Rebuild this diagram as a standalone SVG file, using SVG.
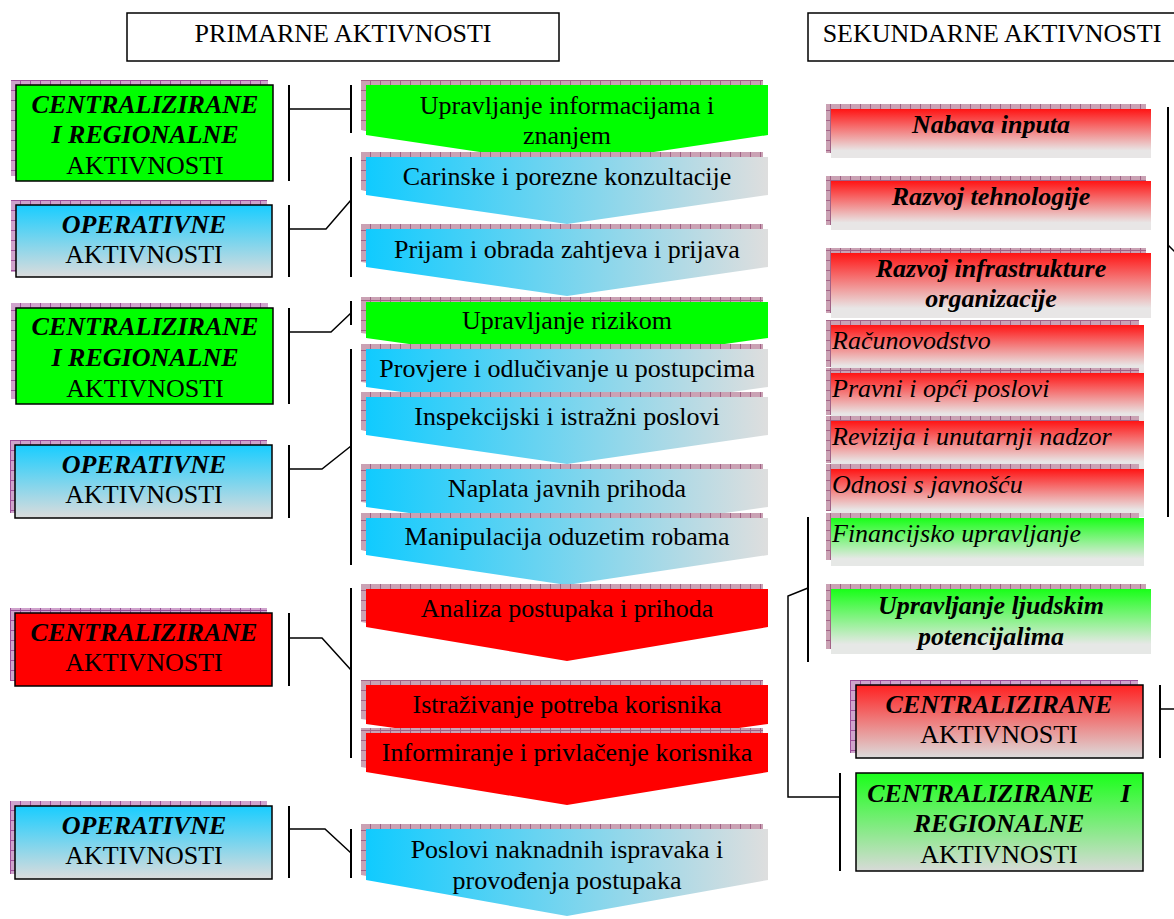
<svg xmlns="http://www.w3.org/2000/svg" width="1174" height="919" viewBox="0 0 1174 919">
<style>
.t{font-family:"Liberation Serif","Times New Roman",serif;font-size:26px;fill:#000}
.bi{font-weight:bold;font-style:italic}
.i{font-style:italic}
.c{text-anchor:middle}
.bar{stroke:#000;stroke-width:2;fill:none}
.ln{stroke:#000;stroke-width:1.5;fill:none}
.bx{stroke:#000;stroke-width:1.5}
.sh{fill:url(#pat)}
.sh2{fill:url(#pat2)}
</style>
<defs>
<pattern id="pat" width="10" height="10" patternUnits="userSpaceOnUse">
<rect width="10" height="10" fill="#cfa3cc"/>
<path d="M0 0.5H10M0.5 0V10" stroke="#9e4f9b" stroke-width="1"/>
</pattern>
<pattern id="pat2" width="10" height="10" patternUnits="userSpaceOnUse">
<rect width="10" height="10" fill="#caa2b4"/>
<path d="M0 0.5H10M0.5 0V10" stroke="#a26286" stroke-width="1"/>
</pattern>
<linearGradient id="gBlueH" x1="0" y1="0" x2="1" y2="0">
<stop offset="0" stop-color="#10cbff"/>
<stop offset="1" stop-color="#dedede"/>
</linearGradient>
<linearGradient id="gBlueV" x1="0" y1="0" x2="0" y2="1">
<stop offset="0" stop-color="#18cdff"/>
<stop offset="1" stop-color="#dcdcdc"/>
</linearGradient>
<linearGradient id="gRedV" x1="0" y1="0" x2="0" y2="1">
<stop offset="0" stop-color="#ff1414"/>
<stop offset="0.85" stop-color="#e8e6e6"/>
</linearGradient>
<linearGradient id="gGreenV" x1="0" y1="0" x2="0" y2="1">
<stop offset="0" stop-color="#18ff18"/>
<stop offset="0.85" stop-color="#e6e8e6"/>
</linearGradient>
<linearGradient id="gRedV2" x1="0" y1="0" x2="0" y2="1">
<stop offset="0" stop-color="#ff2020"/>
<stop offset="1" stop-color="#dcdcdc"/>
</linearGradient>
<linearGradient id="gGreenV2" x1="0" y1="0" x2="0" y2="1">
<stop offset="0" stop-color="#1aff1a"/>
<stop offset="1" stop-color="#d8dad8"/>
</linearGradient>
</defs>
<rect width="1174" height="919" fill="#fff"/>

<g id="hdr-primarne">
<rect x="127" y="13" width="432" height="48" fill="#fff" class="bx"/>
<text x="343" y="42" class="t c">PRIMARNE AKTIVNOSTI</text>
</g>
<g id="hdr-sekundarne">
<rect x="808" y="13" width="380" height="48" fill="#fff" class="bx"/>
<text x="992" y="42" class="t c">SEKUNDARNE AKTIVNOSTI</text>
</g>

<g id="connectors">
<path class="bar" d="M289 85V181M289 205V277M289 308V404M289 445V518M289 613V686M289 806V878"/>
<path class="bar" d="M351 85V133M351 157V277M351 301V325M351 349V565M351 588V758M351 829V878"/>
<path class="ln" d="M289 109H351M289 229H326L351 200M289 332H331L351 313M289 469H322L351 446M289 638H322L351 670M289 829H325L351 853"/>
<path class="bar" d="M1168 107V517M1160 685V758M808 517V662M840 773V871"/>
<path class="ln" d="M1168 245L1175 252M1160 709H1175M808 588L788 596V797H840"/>
</g>

<g id="box-cr1">
<rect x="11" y="80" width="257" height="96" class="sh"/>
<rect x="16" y="85" width="257" height="96" fill="#00ff00" class="bx"/>
<text x="145" y="113" class="t c bi">CENTRALIZIRANE</text>
<text x="145" y="143" class="t c bi">I REGIONALNE</text>
<text x="145" y="174" class="t c">AKTIVNOSTI</text>
</g>
<g id="box-op1">
<rect x="11" y="200" width="256" height="72" class="sh"/>
<rect x="16" y="205" width="256" height="72" fill="url(#gBlueV)" class="bx"/>
<text x="144" y="233" class="t c bi">OPERATIVNE</text>
<text x="144" y="263" class="t c">AKTIVNOSTI</text>
</g>
<g id="box-cr2">
<rect x="11" y="303" width="257" height="96" class="sh"/>
<rect x="16" y="308" width="257" height="96" fill="#00ff00" class="bx"/>
<text x="145" y="335" class="t c bi">CENTRALIZIRANE</text>
<text x="145" y="366" class="t c bi">I REGIONALNE</text>
<text x="145" y="397" class="t c">AKTIVNOSTI</text>
</g>
<g id="box-op2">
<rect x="10" y="440" width="257" height="73" class="sh"/>
<rect x="15" y="445" width="257" height="73" fill="url(#gBlueV)" class="bx"/>
<text x="144" y="473" class="t c bi">OPERATIVNE</text>
<text x="144" y="503" class="t c">AKTIVNOSTI</text>
</g>
<g id="box-c">
<rect x="10" y="608" width="257" height="73" class="sh"/>
<rect x="15" y="613" width="257" height="73" fill="#ff0000" class="bx"/>
<text x="144" y="641" class="t c bi">CENTRALIZIRANE</text>
<text x="144" y="671" class="t c">AKTIVNOSTI</text>
</g>
<g id="box-op3">
<rect x="10" y="801" width="257" height="73" class="sh"/>
<rect x="15" y="806" width="257" height="73" fill="url(#gBlueV)" class="bx"/>
<text x="144" y="834" class="t c bi">OPERATIVNE</text>
<text x="144" y="864" class="t c">AKTIVNOSTI</text>
</g>

<g id="ch1">
<path class="sh2" d="M361 80H763V130L562 160L361 130Z"/>
<path fill="#00ff00" d="M366 85H768V135L567 165L366 135Z"/>
<text x="567" y="114" class="t c">Upravljanje informacijama i</text>
<text x="567" y="144" class="t c">znanjem</text>
</g>
<g id="ch2">
<path class="sh2" d="M361 152H763V190L562 219L361 190Z"/>
<path fill="url(#gBlueH)" d="M366 157H768V195L567 224L366 195Z"/>
<text x="567" y="185" class="t c">Carinske i porezne konzultacije</text>
</g>
<g id="ch3">
<path class="sh2" d="M361 224H763V262L562 291L361 262Z"/>
<path fill="url(#gBlueH)" d="M366 229H768V267L567 296L366 267Z"/>
<text x="567" y="258" class="t c">Prijam i obrada zahtjeva i prijava</text>
</g>
<g id="ch4">
<path class="sh2" d="M361 297H763V333L562 361L361 333Z"/>
<path fill="#00ff00" d="M366 302H768V338L567 366L366 338Z"/>
<text x="567" y="329" class="t c">Upravljanje rizikom</text>
</g>
<g id="ch5">
<path class="sh2" d="M361 344H763V382L562 410L361 382Z"/>
<path fill="url(#gBlueH)" d="M366 349H768V387L567 415L366 387Z"/>
<text x="567" y="377" class="t c">Provjere i odlučivanje u postupcima</text>
</g>
<g id="ch6">
<path class="sh2" d="M361 392H763V430L562 459L361 430Z"/>
<path fill="url(#gBlueH)" d="M366 397H768V435L567 464L366 435Z"/>
<text x="567" y="425" class="t c">Inspekcijski i istražni poslovi</text>
</g>
<g id="ch7">
<path class="sh2" d="M361 464H763V502L562 530L361 502Z"/>
<path fill="url(#gBlueH)" d="M366 469H768V507L567 535L366 507Z"/>
<text x="567" y="497" class="t c">Naplata javnih prihoda</text>
</g>
<g id="ch8">
<path class="sh2" d="M361 513H763V550L562 580L361 550Z"/>
<path fill="url(#gBlueH)" d="M366 518H768V555L567 585L366 555Z"/>
<text x="567" y="545" class="t c">Manipulacija oduzetim robama</text>
</g>
<g id="ch9">
<path class="sh2" d="M361 584H763V622L562 656L361 622Z"/>
<path fill="#ff0000" d="M366 589H768V627L567 661L366 627Z"/>
<text x="567" y="617" class="t c">Analiza postupaka i prihoda</text>
</g>
<g id="ch10">
<path class="sh2" d="M361 680H763V719L562 747L361 719Z"/>
<path fill="#ff0000" d="M366 685H768V724L567 752L366 724Z"/>
<text x="567" y="713" class="t c">Istraživanje potreba korisnika</text>
</g>
<g id="ch11">
<path class="sh2" d="M361 728H763V767L562 800L361 767Z"/>
<path fill="#ff0000" d="M366 733H768V772L567 805L366 772Z"/>
<text x="567" y="761" class="t c">Informiranje i privlačenje korisnika</text>
</g>
<g id="ch12">
<path class="sh2" d="M361 824H763V875L562 911L361 875Z"/>
<path fill="url(#gBlueH)" d="M366 829H768V880L567 916L366 880Z"/>
<text x="567" y="858" class="t c">Poslovi naknadnih ispravaka i</text>
<text x="567" y="889" class="t c">provođenja postupaka</text>
</g>

<g id="r-nabava">
<rect x="826" y="104" width="320" height="49" class="sh2"/>
<rect x="831" y="109" width="320" height="49" fill="url(#gRedV)"/>
<text x="991" y="133" class="t c bi">Nabava inputa</text>
</g>
<g id="r-tehn">
<rect x="826" y="176" width="320" height="49" class="sh2"/>
<rect x="831" y="181" width="320" height="49" fill="url(#gRedV)"/>
<text x="991" y="205" class="t c bi">Razvoj tehnologije</text>
</g>
<g id="r-infra">
<rect x="826" y="248" width="320" height="65" class="sh2"/>
<rect x="831" y="253" width="320" height="65" fill="url(#gRedV)"/>
<text x="991" y="277" class="t c bi">Razvoj infrastrukture</text>
<text x="991" y="307" class="t c bi">organizacije</text>
</g>
<g id="r-racun">
<rect x="826" y="320" width="313" height="47" class="sh2"/>
<rect x="831" y="325" width="313" height="48" fill="url(#gRedV)"/>
<text x="832" y="349" class="t i">Računovodstvo</text>
</g>
<g id="r-pravni">
<rect x="826" y="368" width="313" height="47" class="sh2"/>
<rect x="831" y="373" width="313" height="48" fill="url(#gRedV)"/>
<text x="832" y="397" class="t i">Pravni i opći poslovi</text>
</g>
<g id="r-revizija">
<rect x="826" y="416" width="313" height="47" class="sh2"/>
<rect x="831" y="421" width="313" height="48" fill="url(#gRedV)"/>
<text x="832" y="445" class="t i">Revizija i unutarnji nadzor</text>
</g>
<g id="r-odnosi">
<rect x="826" y="464" width="313" height="47" class="sh2"/>
<rect x="831" y="469" width="313" height="48" fill="url(#gRedV)"/>
<text x="832" y="493" class="t i">Odnosi s javnošću</text>
</g>
<g id="r-fin">
<rect x="826" y="513" width="313" height="47" class="sh2"/>
<rect x="831" y="518" width="313" height="48" fill="url(#gGreenV)"/>
<text x="832" y="542" class="t i">Financijsko upravljanje</text>
</g>
<g id="r-ljud">
<rect x="826" y="584" width="320" height="65" class="sh2"/>
<rect x="831" y="589" width="320" height="65" fill="url(#gGreenV)"/>
<text x="991" y="614" class="t c bi">Upravljanje ljudskim</text>
<text x="991" y="645" class="t c bi">potencijalima</text>
</g>
<g id="r-cent">
<rect x="850" y="680" width="288" height="73" class="sh"/>
<rect x="856" y="685" width="287" height="73" fill="url(#gRedV2)" class="bx"/>
<text x="999" y="713" class="t c bi">CENTRALIZIRANE</text>
<text x="999" y="743" class="t c">AKTIVNOSTI</text>
</g>
<g id="r-cr">
<rect x="856" y="773" width="287" height="98" fill="url(#gGreenV2)" class="bx"/>
<text x="999" y="802" class="t c bi" word-spacing="20">CENTRALIZIRANE I</text>
<text x="999" y="832" class="t c bi">REGIONALNE</text>
<text x="999" y="863" class="t c">AKTIVNOSTI</text>
</g>
</svg>
